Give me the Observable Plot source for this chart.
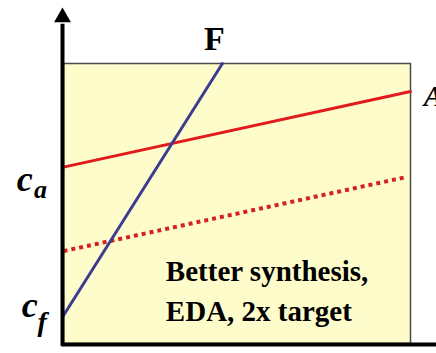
<!DOCTYPE html>
<html>
<head>
<meta charset="utf-8">
<script src="https://cdn.jsdelivr.net/npm/d3@7"></script>
<script src="https://cdn.jsdelivr.net/npm/@observablehq/plot@0.6"></script>
<style>
  html, body { margin: 0; padding: 0; background: #ffffff; }
  #chart svg { display: block; }
</style>
</head>
<body>
<div id="chart"></div>
<script>
// Normalised coordinates: x 0..1 across the shaded box, y 0..1 bottom to top
const lineF = [{x: 0, y: 0.10}, {x: 0.458, y: 1.0}];
const lineA = [{x: 0, y: 0.63}, {x: 1.0, y: 0.90}];
const lineA2x = [{x: 0, y: 0.33}, {x: 0.99, y: 0.595}];
const seriesNames = ["F", "A"];
const axisLabels = ["c", "a", "f"];
const noteLines = ["Better synthesis,", "EDA, 2x target"];

const serif = "Liberation Serif";

const chart = Plot.plot({
  width: 436,
  height: 353,
  marginLeft: 63,
  marginRight: 26,
  marginTop: 63,
  marginBottom: 10,
  x: {domain: [0, 1], axis: null},
  y: {domain: [0, 1], axis: null},
  style: {background: "transparent", overflow: "visible"},
  marks: [
    Plot.frame({fill: "#fffccc", stroke: "#4a4a4a", strokeWidth: 1.5}),
    Plot.line(lineA2x, {x: "x", y: "y", stroke: "#d42222", strokeWidth: 4, strokeDasharray: "4 4", strokeLinecap: "butt"}),
    Plot.line(lineA, {x: "x", y: "y", stroke: "#e01b1b", strokeWidth: 3}),
    Plot.line(lineF, {x: "x", y: "y", stroke: "#3d3d90", strokeWidth: 3}),
    // axes
    Plot.ruleX([0], {y1: -0.01, y2: 1.14, stroke: "#000", strokeWidth: 4, dx: -1}),
    Plot.dot([{x: 0, y: 1.165}], {x: "x", y: "y", symbol: "triangle", r: 5, fill: "#000", stroke: "#000", strokeWidth: 2, dx: -1}),
    Plot.ruleY([0], {x1: -0.005, x2: 1.08, stroke: "#000", strokeWidth: 4, dy: 1}),
    // series labels
    Plot.text([seriesNames[0]], {x: 0.405, y: 1.05, text: d => d, textAnchor: "start", lineAnchor: "bottom",
      fontFamily: serif, fontWeight: "bold", fontSize: 34, fill: "#000"}),
    Plot.text([seriesNames[1]], {x: 1.038, y: 0.85, text: d => d, textAnchor: "start", lineAnchor: "bottom",
      fontFamily: serif, fontWeight: "bold", fontStyle: "italic", fontSize: 30, fill: "#000"}),
    // axis labels c_a and c_f
    Plot.text([axisLabels[0]], {x: -0.135, y: 0.545, text: d => d, textAnchor: "start", lineAnchor: "bottom",
      fontFamily: serif, fontWeight: "bold", fontStyle: "italic", fontSize: 36, fill: "#000"}),
    Plot.text([axisLabels[1]], {x: -0.085, y: 0.52, text: d => d, textAnchor: "start", lineAnchor: "bottom",
      fontFamily: serif, fontWeight: "bold", fontStyle: "italic", fontSize: 26, fill: "#000"}),
    Plot.text([axisLabels[0]], {x: -0.12, y: 0.093, text: d => d, textAnchor: "start", lineAnchor: "bottom",
      fontFamily: serif, fontWeight: "bold", fontStyle: "italic", fontSize: 36, fill: "#000"}),
    Plot.text([axisLabels[2]], {x: -0.075, y: 0.045, text: d => d, textAnchor: "start", lineAnchor: "bottom",
      fontFamily: serif, fontWeight: "bold", fontStyle: "italic", fontSize: 28, fill: "#000"}),
    // annotation
    Plot.text([noteLines[0]], {x: 0.295, y: 0.225, text: d => d, textAnchor: "start", lineAnchor: "bottom",
      fontFamily: serif, fontWeight: "bold", fontSize: 29, fill: "#000"}),
    Plot.text([noteLines[1]], {x: 0.295, y: 0.082, text: d => d, textAnchor: "start", lineAnchor: "bottom",
      fontFamily: serif, fontWeight: "bold", fontSize: 29, fill: "#000"})
  ]
});
document.getElementById("chart").appendChild(chart);
</script>
</body>
</html>
